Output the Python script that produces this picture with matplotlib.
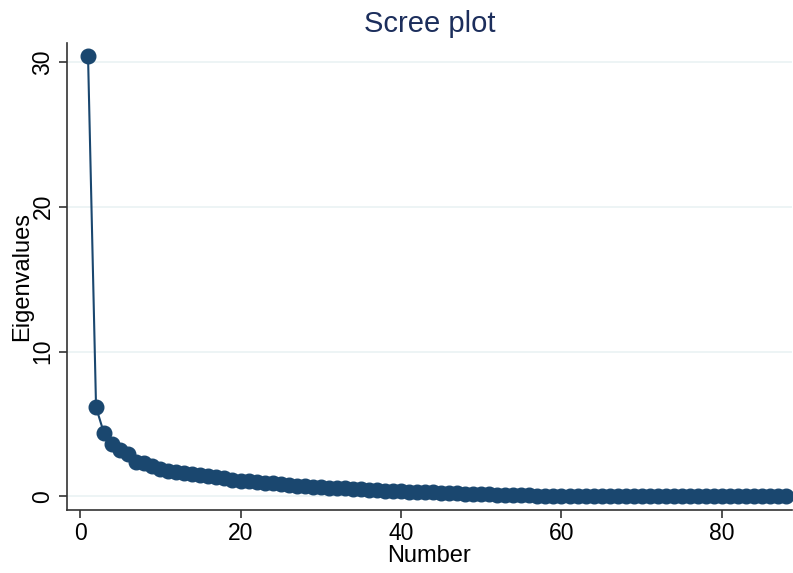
import matplotlib
matplotlib.use('Agg')
import matplotlib.pyplot as plt

# eigenvalues, component 1..88
number = list(range(1, 89))
eigenvalues = [
    30.4, 6.15, 4.35, 3.6, 3.2, 2.9, 2.4, 2.28, 2.08, 1.92,
    1.78, 1.72, 1.62, 1.52, 1.45, 1.40, 1.35, 1.25, 1.15, 1.10,
    1.06, 1.00, 0.95, 0.90, 0.84, 0.78, 0.74, 0.71, 0.68, 0.65,
    0.62, 0.59, 0.56, 0.53, 0.50, 0.47, 0.44, 0.41, 0.38, 0.36,
    0.34, 0.32, 0.30, 0.28, 0.26, 0.24, 0.22, 0.20, 0.18, 0.16,
    0.14, 0.12, 0.10, 0.09, 0.08, 0.07, 0.06, 0.05, 0.045, 0.04,
    0.037, 0.034, 0.031, 0.029, 0.027, 0.025, 0.023, 0.021, 0.019, 0.018,
    0.017, 0.016, 0.015, 0.014, 0.013, 0.012, 0.011, 0.010, 0.009, 0.008,
    0.007, 0.006, 0.005, 0.004, 0.003, 0.002, 0.001, 0.0005,
]
xticks = [0, 20, 40, 60, 80]
yticks = [0, 10, 20, 30]

navy = '#1a476f'
plt.rcParams['font.family'] = ['Liberation Sans', 'DejaVu Sans']

fig = plt.figure(figsize=(7.93, 5.73), dpi=100)
ax = fig.add_axes([0.0845, 0.110, 0.914, 0.815])

for y in yticks:
    ax.axhline(y, color='#eaf2f3', lw=1.2, zorder=0)

ax.plot(number, eigenvalues, color=navy, lw=1.5, marker='o', ms=10.5,
        mec=navy, mfc=navy, zorder=3, clip_on=False)

ax.set_xlim(-1.62, 88.7)
ax.set_ylim(-0.93, 31.3)
ax.set_xticks(xticks)
ax.set_yticks(yticks)
ax.set_xticklabels([str(v) for v in xticks], fontsize=16.5)
ax.set_yticklabels([str(v) for v in yticks], fontsize=16.5, rotation=90, va='center')
ax.tick_params(length=6, width=1.2, color='#333333', pad=3)

for s in ['top', 'right']:
    ax.spines[s].set_visible(False)
for s in ['left', 'bottom']:
    ax.spines[s].set_linewidth(1.2)
    ax.spines[s].set_color('#333333')

ax.set_xlabel('Number', fontsize=17, labelpad=0)
ax.set_ylabel('Eigenvalues', fontsize=17, labelpad=-1)
ax.set_title('Scree plot', fontsize=21, color='#1c2e5c', pad=8)

fig.savefig('out.png', dpi=100, facecolor='white')
